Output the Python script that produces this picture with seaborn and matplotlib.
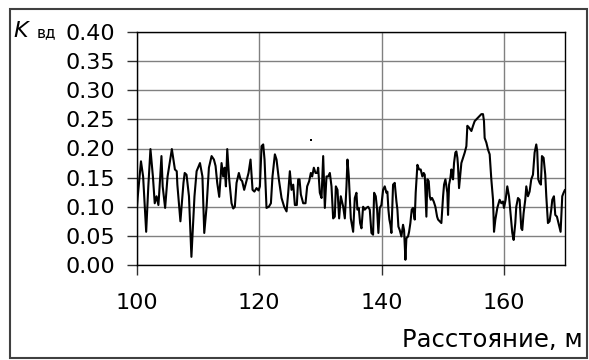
import numpy as np
import pandas as pd
import matplotlib
matplotlib.use("Agg")
import matplotlib.pyplot as plt
import seaborn as sns
from matplotlib.patches import Rectangle

# ---- data ----
dist = [
    100.0, 100.1, 100.65, 101.0, 101.5, 101.85, 102.2, 102.6, 102.9, 103.2, 103.5, 103.6,
    104.0, 104.2, 104.6, 105.0, 105.7, 106.2, 106.5, 106.6, 107.1, 107.6, 107.8, 108.1,
    108.5, 108.9, 109.4, 109.75, 110.3, 110.7, 111.0,
    111.38, 111.76, 112.2, 112.58, 112.85, 113.12, 113.45, 113.83, 114.1, 114.32, 114.54,
    114.76, 115.08, 115.46, 115.74, 116.0, 116.28, 116.66, 116.93, 117.2, 117.53, 117.9,
    118.24, 118.57, 118.9, 119.2, 119.55, 119.88, 120.1, 120.37, 120.64, 120.86, 121.18,
    121.56, 121.9, 122.16,
    122.55, 122.82, 123.2, 123.64, 124.07, 124.46, 124.73, 125.0, 125.27, 125.55, 125.82,
    126.14, 126.36, 126.58, 126.8, 127.18, 127.56, 127.83, 128.16, 128.43, 128.65, 128.92,
    129.2, 129.47, 129.63, 129.9, 130.18, 130.45, 130.72, 130.99, 131.27, 131.54, 131.81,
    132.08, 132.35, 132.52, 132.79, 133.06, 133.33, 133.72, 133.99, 134.26, 134.42, 134.64,
    134.97, 135.35,
    135.62, 135.89, 136.05, 136.27, 136.49, 136.71, 136.98, 137.25, 137.52, 137.8, 138.07,
    138.34, 138.61, 138.78, 139.05, 139.27, 139.48, 139.7, 139.97, 140.25, 140.52, 140.79,
    140.95, 141.12, 141.28, 141.45, 141.61, 141.88, 142.15, 142.43, 142.59, 142.75, 142.97,
    143.24, 143.51, 143.68, 143.9, 144.06, 144.33, 144.5, 144.71, 144.93, 145.15, 145.42,
    145.58, 145.86, 146.13, 146.4, 146.67, 146.89, 147.06, 147.33, 147.49,
    147.71, 147.88, 148.04, 148.26, 148.53, 148.8, 149.08, 149.24, 149.51, 149.78, 150.06,
    150.22, 150.44, 150.6, 150.76, 150.87, 151.04, 151.25, 151.42, 151.58, 151.69, 151.85,
    152.07, 152.23, 152.4, 152.5, 152.67, 152.89, 153.05, 153.32, 153.6, 153.87, 154.03,
    154.3, 154.69, 154.96, 155.23, 155.5, 155.77, 156.05, 156.32, 156.59, 156.75, 156.86,
    157.14, 157.41, 157.68, 157.95, 158.23, 158.39, 158.61, 158.93, 159.31, 159.59, 159.86,
    160.02, 160.29, 160.56, 160.84, 161.11, 161.38, 161.6, 161.87, 162.03, 162.31, 162.58,
    162.85, 163.01, 163.23, 163.5, 163.67, 163.94, 164.21, 164.48, 164.76, 165.03, 165.3,
    165.46, 165.63, 165.85, 166.06, 166.23, 166.5, 166.77, 166.94, 167.21, 167.48, 167.75,
    167.92, 168.19, 168.41, 168.68, 169.0, 169.28, 169.55, 169.77, 169.99,
]
kvd = [
    0.100, 0.115, 0.178, 0.152, 0.057, 0.135, 0.199, 0.152, 0.106, 0.118, 0.103, 0.118,
    0.187, 0.135, 0.098, 0.152, 0.199, 0.164, 0.161, 0.138, 0.075, 0.141, 0.158, 0.155,
    0.118, 0.014, 0.118, 0.161, 0.175, 0.152, 0.055,
    0.100, 0.167, 0.187, 0.181, 0.170, 0.141, 0.117, 0.175, 0.152, 0.167, 0.135,
    0.199, 0.147, 0.106, 0.097, 0.100, 0.141, 0.158, 0.147, 0.144, 0.129, 0.144,
    0.158, 0.181, 0.129, 0.126, 0.132, 0.128, 0.135, 0.204, 0.207, 0.181, 0.098,
    0.100, 0.106, 0.152,
    0.190, 0.181, 0.147, 0.115, 0.100, 0.092, 0.124, 0.161, 0.129, 0.138, 0.103,
    0.103, 0.147, 0.147, 0.121, 0.106, 0.106, 0.135, 0.144, 0.158, 0.152, 0.167,
    0.158, 0.158, 0.167, 0.124, 0.115, 0.187, 0.098, 0.152, 0.152, 0.158, 0.135,
    0.080, 0.083, 0.135, 0.129, 0.080, 0.118, 0.100, 0.080, 0.135, 0.181, 0.152,
    0.080, 0.057,
    0.115, 0.124, 0.095, 0.098, 0.072, 0.063, 0.100, 0.095, 0.098, 0.100, 0.095,
    0.055, 0.052, 0.124, 0.118, 0.095, 0.055, 0.098, 0.103, 0.129, 0.135, 0.124,
    0.126, 0.095, 0.078, 0.069, 0.055, 0.138, 0.141, 0.109, 0.095, 0.066, 0.060,
    0.049, 0.069, 0.060, 0.009, 0.046, 0.049, 0.057, 0.072, 0.095, 0.098, 0.078,
    0.124, 0.172, 0.164, 0.164, 0.152, 0.158, 0.155, 0.083, 0.147,
    0.144, 0.118, 0.112, 0.115, 0.109, 0.100, 0.083, 0.078, 0.075, 0.072, 0.118,
    0.138, 0.147, 0.135, 0.124, 0.086, 0.138, 0.149, 0.164, 0.152, 0.147, 0.175,
    0.193, 0.195, 0.184, 0.170, 0.132, 0.158, 0.175, 0.184, 0.193, 0.204, 0.239,
    0.236, 0.230, 0.239, 0.247, 0.250, 0.253, 0.256, 0.259, 0.259, 0.247, 0.218,
    0.210, 0.198, 0.190, 0.147, 0.112, 0.057, 0.078, 0.098, 0.112, 0.106, 0.109,
    0.098, 0.112, 0.135, 0.118, 0.086, 0.055, 0.043, 0.072, 0.100, 0.115, 0.112,
    0.063, 0.060, 0.089, 0.112, 0.135, 0.118, 0.126, 0.147, 0.155, 0.193, 0.207,
    0.195, 0.147, 0.141, 0.138, 0.187, 0.184, 0.155, 0.118, 0.072, 0.075, 0.095,
    0.112, 0.118, 0.086, 0.083, 0.069, 0.057, 0.118, 0.124, 0.129,
]
stray_x = [128.5]
stray_y = [0.214]

x_ticks = [100, 120, 140, 160]
y_ticks = [0.00, 0.05, 0.10, 0.15, 0.20, 0.25, 0.30, 0.35, 0.40]
x_label = "Расстояние, м"

df = pd.DataFrame({"dist": dist, "kvd": kvd})

sns.set_theme(style="ticks")
plt.rcParams["font.family"] = ["DejaVu Sans"]

W, H = 589, 360
fig = plt.figure(figsize=(W / 100, H / 100), dpi=100)
ax = fig.add_axes([137 / W, 1 - 265 / H, (565 - 137) / W, (265 - 32) / H])

sns.lineplot(data=df, x="dist", y="kvd", ax=ax, color="black", linewidth=1.5,
             estimator=None, sort=False)
ax.scatter(stray_x, stray_y, marker="s", s=3, color="black", linewidths=0, zorder=3)

ax.set_xlim(100, 170)
ax.set_ylim(0, 0.40)
ax.set_xticks(x_ticks)
ax.set_yticks(y_ticks)
ax.set_yticklabels([f"{v:.2f}" for v in y_ticks])
ax.set_xlabel("")
ax.set_ylabel("")
ax.grid(True, color="#808080", linewidth=1.0, zorder=0)
for s in ax.spines.values():
    s.set_visible(True)
    s.set_color("black")
    s.set_linewidth(1.0)
ax.tick_params(axis="x", length=7, width=1.0, color="#303030", labelsize=16,
               labelcolor="black", pad=13, bottom=True, top=False)
ax.tick_params(axis="y", length=7, width=1.0, color="#303030", labelsize=16,
               labelcolor="black", pad=9, left=True, right=False)

fig.text(583 / W, 1 - 347 / H, x_label, ha="right", va="baseline", fontsize=17.5, color="black")
fig.text(13 / W, 1 - 37 / H, "K", ha="left", va="baseline", fontsize=16,
         style="italic", color="black")
fig.text(37 / W, 1 - 37 / H, "вд", ha="left", va="baseline", fontsize=11, color="black")

fig.patches.append(Rectangle((10 / W, 1 - 358 / H), (587 - 10) / W, (358 - 9) / H,
                             transform=fig.transFigure, fill=False,
                             edgecolor="#404040", linewidth=1.5))

fig.savefig("out.png", dpi=100)
